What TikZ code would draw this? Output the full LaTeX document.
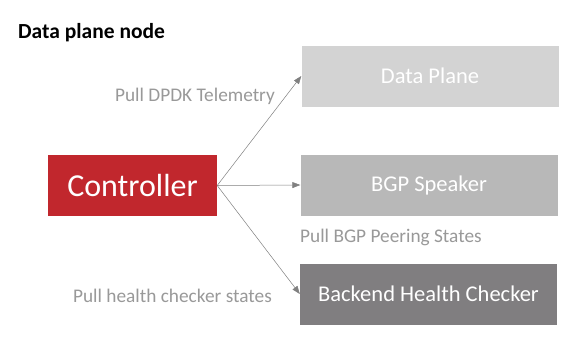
\documentclass[tikz,border=0pt]{standalone}
\usepackage{fontspec}
\setmainfont{Carlito}
\usetikzlibrary{arrows.meta}
\definecolor{ctrlred}{HTML}{C1272D}
\definecolor{boxa}{HTML}{D3D3D3}
\definecolor{boxb}{HTML}{B8B8B8}
\definecolor{boxc}{HTML}{807E80}
\definecolor{lblgray}{HTML}{999999}
\begin{document}
\begin{tikzpicture}[x=1pt,y=-1pt,
  blk/.style={minimum width=257pt,minimum height=61pt,inner sep=0pt,text=white,font=\fontsize{22.5}{25}\selectfont},
  lbl/.style={text=lblgray,inner sep=0pt,font=\fontsize{19.3}{21}\selectfont},
  link/.style={draw=gray,line width=0.5pt,-{Triangle[length=8pt,width=6pt]}}]
\fill[white] (0,0) rectangle (578,338);
\node[anchor=west,inner sep=0pt,font=\bfseries\fontsize{21.5}{24}\selectfont] (title) at (18,33) {Data plane node};
\node[fill=ctrlred,minimum width=169pt,minimum height=61pt,inner sep=0pt,text=white,font=\fontsize{32}{35}\selectfont] (ctrl) at (132.5,185.5) {Controller};
\node[blk,fill=boxa] (dp) at (430,76) {Data Plane};
\node[blk,fill=boxb] (bgp) at (429,185) {BGP Speaker};
\node[blk,fill=boxc] (hc) at (428.5,294) {Backend Health Checker};
\node[lbl,anchor=east] (l1) at (275,96) {Pull DPDK Telemetry};
\node[lbl,anchor=west] (l2) at (300,237) {Pull BGP Peering States};
\node[lbl,anchor=east] (l3) at (272,296) {Pull health checker states};
\foreach \v in {dp,bgp,hc}
  \draw[link] (ctrl.east)--(\v.west);
\end{tikzpicture}
\end{document}
